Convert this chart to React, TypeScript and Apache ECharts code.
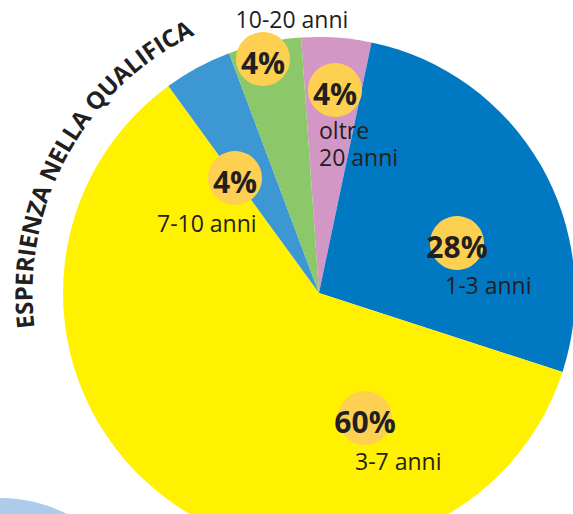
import React, { useEffect, useRef } from "react";
import * as echarts from "echarts";

// ---- data ----
const categories = ["oltre 20 anni", "1-3 anni", "3-7 anni", "7-10 anni", "10-20 anni"];
const values = [4.4, 26.7, 60.0, 4.3, 4.6];
const percentLabels = ["4%", "28%", "60%", "4%", "4%"];
const nameLabelLines = [["oltre", "20 anni"], ["1-3 anni"], ["3-7 anni"], ["7-10 anni"], ["10-20 anni"]];
const titleText = "ESPERIENZA NELLA QUALIFICA";

// ---- styles / layout ----
const sliceColors = ["#D397C6", "#0079C2", "#FFF100", "#3D97D3", "#8CC76A"];
const badgeColor = "#FDD052";
const textColor = "#231F20";
const CX = 319;
const CY = 293;
const R = 256;
const badgePos = [
  [335, 90],
  [457, 243],
  [365, 418],
  [235, 178],
  [263, 59],
];
const namePos: { x: number; y: number; align: string }[] = [
  { x: 319, y: 130, align: "left" },
  { x: 445, y: 285, align: "left" },
  { x: 355, y: 461, align: "left" },
  { x: 157, y: 223, align: "left" },
  { x: 292, y: 19, align: "center" },
];
const LINE_STEP = 27;

function buildTitle(): any[] {
  const font = "bold 24px 'Open Sans'";
  const canvas = document.createElement("canvas");
  const ctx = canvas.getContext("2d")!;
  ctx.font = font;
  const chars = titleText.split("");
  const widths = chars.map((c) => ctx.measureText(c).width);
  const rMid = 296;
  const a0 = (185.6 * Math.PI) / 180;
  const a1 = (117.3 * Math.PI) / 180;
  const L = (a0 - a1) * rMid;
  let base = 0;
  for (let i = 1; i < chars.length; i++) base += (widths[i - 1] + widths[i]) / 2;
  const spacing = (L - base) / (chars.length - 1);
  const els: any[] = [];
  let s = 0;
  for (let i = 0; i < chars.length; i++) {
    if (i > 0) s += (widths[i - 1] + widths[i]) / 2 + spacing;
    const th = a0 - s / rMid;
    if (chars[i] === " ") continue;
    els.push({
      type: "text",
      x: CX + rMid * Math.cos(th),
      y: CY - rMid * Math.sin(th),
      rotation: th - Math.PI / 2,
      z: 100,
      style: {
        text: chars[i],
        font,
        fill: textColor,
        align: "center",
        verticalAlign: "middle",
      },
    });
  }
  return els;
}

export default function App() {
  const ref = useRef<HTMLDivElement>(null);
  useEffect(() => {
    document.body.style.margin = "0";
    const chart = echarts.init(ref.current!, undefined, { renderer: "svg" });
    const graphics: any[] = [
      {
        type: "circle",
        shape: { cx: 0, cy: 646, r: 148 },
        style: { fill: "#ADCBEA" },
        z: 1,
      },
    ];
    categories.forEach((_, i) => {
      graphics.push({
        type: "circle",
        shape: { cx: badgePos[i][0], cy: badgePos[i][1], r: 27 },
        style: { fill: badgeColor },
        z: 100,
      });
      graphics.push({
        type: "text",
        x: badgePos[i][0],
        y: badgePos[i][1] + 3,
        z: 101,
        style: {
          text: percentLabels[i],
          font: "bold 30px 'Open Sans'",
          fill: textColor,
          align: "center",
          verticalAlign: "middle",
        },
      });
      nameLabelLines[i].forEach((line, j) => {
        graphics.push({
          type: "text",
          x: namePos[i].x,
          y: namePos[i].y + j * LINE_STEP,
          z: 101,
          style: {
            text: line,
            font: "23px 'Open Sans'",
            lineHeight: 23,
            fill: textColor,
            align: namePos[i].align,
            verticalAlign: "middle",
          },
        });
      });
    });
    graphics.push(...buildTitle());

    chart.setOption({
      animation: false,
      backgroundColor: "#ffffff",
      graphic: graphics,
      series: [
        {
          type: "pie",
          center: [CX, CY],
          radius: [0, R],
          startAngle: 94,
          clockwise: true,
          label: { show: false },
          labelLine: { show: false },
          emphasis: { disabled: true },
          itemStyle: { borderWidth: 0 },
          data: categories.map((name, i) => ({
            name,
            value: values[i],
            itemStyle: { color: sliceColors[i] },
          })),
        },
      ],
    });
    return () => chart.dispose();
  }, []);
  return <div ref={ref} style={{ width: 573, height: 514 }} />;
}
